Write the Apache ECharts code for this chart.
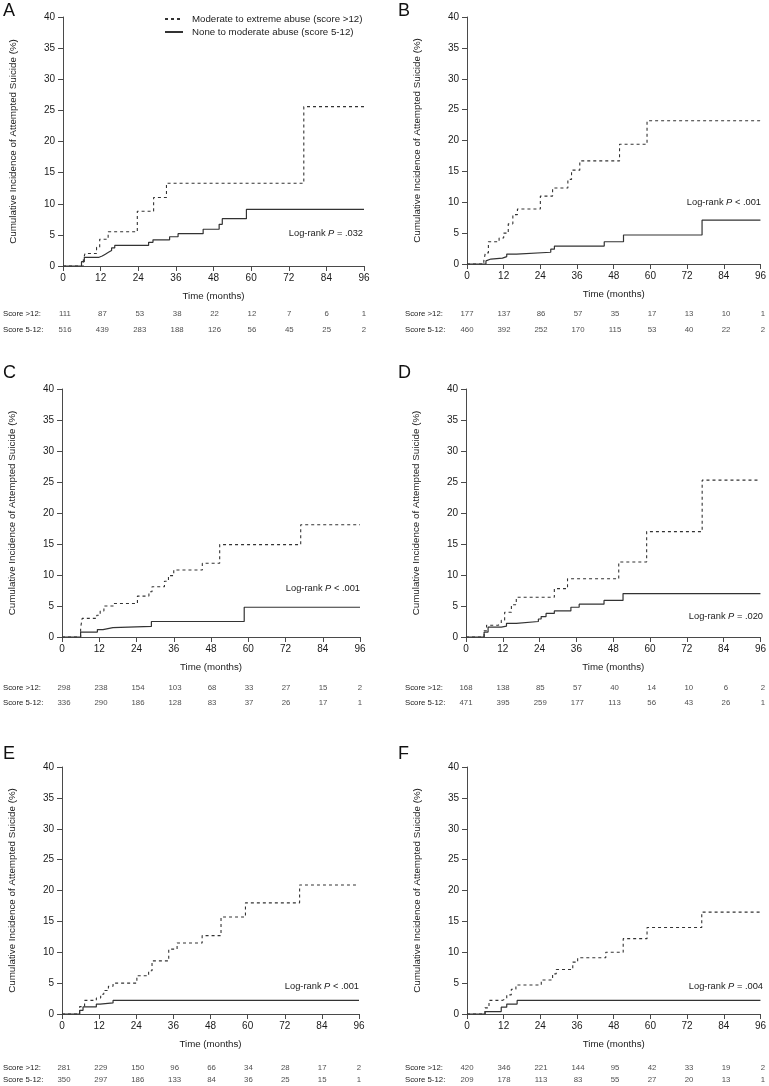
<!DOCTYPE html>
<html>
<head>
<meta charset="utf-8">
<script src="https://cdn.jsdelivr.net/npm/echarts@6/dist/echarts.min.js"></script>
<style>
  html, body { margin: 0; padding: 0; background: #fff; }
  #chart { width: 769px; height: 1086px; }
</style>
</head>
<body>
<div id="chart"></div>
<script>
// ---------------- DATA ----------------
const seriesNames = ['Moderate to extreme abuse (score >12)', 'None to moderate abuse (score 5-12)'];
const rowLabels = ['Score >12:', 'Score 5-12:'];
const months = [0, 12, 24, 36, 48, 60, 72, 84, 96];
const panelLetters = ['A', 'B', 'C', 'D', 'E', 'F'];
const pValues = ['= .032', '< .001', '< .001', '= .020', '< .001', '= .004'];

// step curves: [time (months), cumulative incidence (%) after event]
const A_high = [[0,0],[6.5,1.0],[7,2.0],[10.7,3.0],[11.7,4.3],[14.4,5.5],[23.7,8.8],[28.9,11.0],[33,13.3],[76.8,25.6],[96,25.6]];
const A_low  = [[0,0],[5.9,0.7],[6.8,1.4],[11.5,1.6],[12.5,1.9],[13.5,2.2],[14.5,2.5],[15.5,2.9],[16.5,3.3],[27.3,3.8],[28.7,4.2],[34,4.7],[36.7,5.2],[44.7,5.9],[49.8,6.7],[50.8,7.6],[58.5,9.1],[96,9.1]];
const B_high = [[0,0],[5.5,0.5],[6,1.8],[7,3.6],[10.5,4.2],[12,5.0],[13.5,6.5],[15,8.0],[16.5,8.9],[24,11.0],[28,12.3],[33,13.7],[34.2,15.2],[36.9,16.7],[49.9,19.4],[58.9,23.2],[96,23.2]];
const B_low  = [[0,0],[6.2,0.5],[6.8,0.8],[7.8,0.95],[11.6,1.2],[13,1.6],[16.2,1.9],[27.4,2.4],[28.6,2.9],[44.9,3.6],[51.2,4.7],[76.9,7.1],[96,7.1]];
const C_high = [[0,0],[6,1.5],[6.5,3.0],[11.2,3.5],[12.3,4.2],[13.5,5.0],[16.5,5.4],[24.3,6.6],[28,7.3],[29,8.1],[33,9.0],[34.3,9.9],[36,10.8],[45.2,11.9],[50.8,14.9],[76.9,18.1],[96,18.1]];
const C_low  = [[0,0],[6,0.8],[11.4,1.2],[13.2,1.5],[16.4,1.7],[28.8,2.5],[58.7,4.8],[96,4.8]];
const D_high = [[0,0],[5.9,1.0],[6.7,1.9],[10.5,2.2],[11.5,2.7],[12.6,4.0],[14.8,5.2],[16.4,6.4],[28.8,7.8],[33.1,9.4],[49.8,12.1],[58.9,17.0],[77,25.3],[96,25.3]];
const D_low  = [[0,0],[5.9,0.8],[7.2,1.6],[11.5,1.75],[13.2,2.2],[16.4,2.5],[23.6,2.9],[24.5,3.3],[26.1,3.8],[28.8,4.2],[34.2,4.8],[36.9,5.3],[45,5.9],[51.2,7.0],[96,7.0]];
const E_high = [[0,0],[5.7,1.2],[7.3,2.2],[11.1,2.6],[12.5,3.2],[13.5,3.8],[15,4.5],[16.5,5.0],[24.2,6.2],[28,7.0],[29.1,8.6],[34.5,10.5],[37.2,11.5],[45.3,12.7],[51.4,15.7],[59.3,18.0],[76.8,20.9],[96,20.9]];
const E_low  = [[0,0],[5.7,0.6],[6.8,1.15],[11.1,1.6],[12.3,1.8],[16.5,2.2],[96,2.2]];
const F_high = [[0,0],[5.9,1.0],[7.2,2.2],[11.5,2.5],[13,3.1],[14.5,4.0],[16,4.7],[24.3,5.5],[28,6.5],[29.2,7.2],[34.6,8.4],[36.2,9.1],[45.4,10.0],[51.1,12.2],[58.9,14.0],[76.8,16.5],[96,16.5]];
const F_low  = [[0,0],[5.9,0.4],[11.2,1.1],[13,1.6],[16.4,2.2],[96,2.2]];

// numbers at risk at 0,12,...,96 months
const A_riskHigh = [111, 87, 53, 38, 22, 12, 7, 6, 1];
const A_riskLow  = [516, 439, 283, 188, 126, 56, 45, 25, 2];
const B_riskHigh = [177, 137, 86, 57, 35, 17, 13, 10, 1];
const B_riskLow  = [460, 392, 252, 170, 115, 53, 40, 22, 2];
const C_riskHigh = [298, 238, 154, 103, 68, 33, 27, 15, 2];
const C_riskLow  = [336, 290, 186, 128, 83, 37, 26, 17, 1];
const D_riskHigh = [168, 138, 85, 57, 40, 14, 10, 6, 2];
const D_riskLow  = [471, 395, 259, 177, 113, 56, 43, 26, 1];
const E_riskHigh = [281, 229, 150, 96, 66, 34, 28, 17, 2];
const E_riskLow  = [350, 297, 186, 133, 84, 36, 25, 15, 1];
const F_riskHigh = [420, 346, 221, 144, 95, 42, 33, 19, 2];
const F_riskLow  = [209, 178, 113, 83, 55, 27, 20, 13, 1];

const curvesHigh = [A_high, B_high, C_high, D_high, E_high, F_high];
const curvesLow  = [A_low, B_low, C_low, D_low, E_low, F_low];
const risksHigh  = [A_riskHigh, B_riskHigh, C_riskHigh, D_riskHigh, E_riskHigh, F_riskHigh];
const risksLow   = [A_riskLow, B_riskLow, C_riskLow, D_riskLow, E_riskLow, F_riskLow];

// ---------------- LAYOUT (pixels) ----------------
const layout = [
  { l: 63,  r: 364, t: 17,  b: 266, rows: [314, 330],  letter: [3, 2],     p: [363, 233] },
  { l: 467, r: 763, t: 17,  b: 264, rows: [314, 330],  letter: [398, 2],   p: [761, 202] },
  { l: 62,  r: 360, t: 389, b: 637, rows: [688, 703],  letter: [3, 364],   p: [360, 588] },
  { l: 466, r: 763, t: 389, b: 637, rows: [688, 703],  letter: [398, 364], p: [763, 616] },
  { l: 62,  r: 359, t: 767, b: 1014, rows: [1068, 1081], letter: [3, 745], p: [359, 986] },
  { l: 467, r: 763, t: 767, b: 1014, rows: [1068, 1081], letter: [398, 745], p: [763, 986] }
];

const FONT = '"Liberation Sans", Arial, Helvetica, sans-serif';
const AXIS_COLOR = '#4a4a4a';
const TEXT_COLOR = '#1a1a1a';
const LINE_COLOR = '#333';

const grid = [], xAxis = [], yAxis = [], series = [], title = [];

layout.forEach((L, i) => {
  const g = grid.length;
  grid.push({ left: L.l, top: L.t, width: L.r - L.l, height: L.b - L.t, containLabel: false });
  xAxis.push({
    gridIndex: g, type: 'value', min: 0, max: 96, interval: 12,
    axisLine: { show: true, lineStyle: { color: AXIS_COLOR, width: 1 } },
    axisTick: { show: true, length: 5, lineStyle: { color: AXIS_COLOR } },
    axisLabel: { fontSize: 10, color: TEXT_COLOR, fontFamily: FONT, margin: 7 },
    splitLine: { show: false },
    name: 'Time (months)', nameLocation: 'middle', nameGap: 25,
    nameTextStyle: { fontSize: 9.7, color: TEXT_COLOR, fontFamily: FONT }
  });
  yAxis.push({
    gridIndex: g, type: 'value', min: 0, max: 40, interval: 5,
    axisLine: { show: true, lineStyle: { color: AXIS_COLOR, width: 1 } },
    axisTick: { show: true, length: 5, lineStyle: { color: AXIS_COLOR } },
    axisLabel: { fontSize: 10, color: TEXT_COLOR, fontFamily: FONT, margin: 8 },
    splitLine: { show: false },
    name: 'Cumulative Incidence of Attempted Suicide (%)', nameLocation: 'middle', nameGap: 45, nameRotate: 90,
    nameTextStyle: { fontSize: 9.8, color: TEXT_COLOR, fontFamily: FONT }
  });
  series.push({
    name: seriesNames[0], type: 'line', xAxisIndex: g, yAxisIndex: g, step: 'end',
    data: curvesHigh[i], showSymbol: false, symbol: 'none', silent: true,
    lineStyle: { color: LINE_COLOR, width: 1.1, type: [3, 3] }, itemStyle: { color: LINE_COLOR }
  });
  series.push({
    name: seriesNames[1], type: 'line', xAxisIndex: g, yAxisIndex: g, step: 'end',
    data: curvesLow[i], showSymbol: false, symbol: 'none', silent: true,
    lineStyle: { color: LINE_COLOR, width: 1.2, type: 'solid' }, itemStyle: { color: LINE_COLOR }
  });

  // number-at-risk table
  const tg = grid.length;
  const d = L.rows[1] - L.rows[0];
  grid.push({ left: L.l, top: L.rows[0] - d / 2, width: L.r - L.l, height: 2 * d, containLabel: false });
  xAxis.push({ gridIndex: tg, type: 'value', min: 0, max: 96, show: false });
  yAxis.push({
    gridIndex: tg, type: 'category', data: rowLabels, inverse: true,
    axisLine: { show: false }, axisTick: { show: false }, splitLine: { show: false },
    axisLabel: { align: 'left', margin: L.l - (i % 2 === 0 ? 1 : 405), fontSize: 7.8, color: TEXT_COLOR, fontFamily: FONT }
  });
  [risksHigh[i], risksLow[i]].forEach((arr, r) => {
    series.push({
      type: 'scatter', xAxisIndex: tg, yAxisIndex: tg, silent: true,
      symbolSize: 0.1, itemStyle: { color: 'rgba(0,0,0,0)' },
      data: arr.map((n, k) => [months[k], r, n]),
      label: { show: true, position: 'inside', formatter: (p) => String(p.value[2]),
               fontSize: 7.8, color: TEXT_COLOR, fontFamily: FONT }
    });
  });

  // panel letter
  title.push({
    text: panelLetters[i], left: L.letter[0], top: L.letter[1], padding: 0,
    textStyle: { fontSize: 18, fontWeight: 'normal', color: '#111', fontFamily: FONT }
  });
  // log-rank annotation
  title.push({
    text: '{n|Log-rank }{i|P}{n| ' + pValues[i] + '}',
    right: 769 - L.p[0], top: L.p[1] - 5.5, padding: 0,
    textStyle: {
      fontWeight: 'normal', fontSize: 9.3, color: TEXT_COLOR, fontFamily: FONT,
      rich: {
        n: { fontSize: 9.3, fontWeight: 'normal', color: TEXT_COLOR, fontFamily: FONT, lineHeight: 11 },
        i: { fontSize: 9.3, fontWeight: 'normal', color: TEXT_COLOR, fontFamily: FONT, fontStyle: 'italic', lineHeight: 11 }
      }
    }
  });
});

const option = {
  animation: false,
  backgroundColor: '#fff',
  title: title,
  legend: {
    data: seriesNames, orient: 'vertical', left: 164, top: 14, padding: 0,
    itemWidth: 18, itemHeight: 10, itemGap: 3, selectedMode: false,
    itemStyle: { opacity: 0, borderWidth: 0 },
    textStyle: { fontSize: 9.7, color: TEXT_COLOR, fontFamily: FONT, padding: [0, 0, 0, 4] }
  },
  grid: grid, xAxis: xAxis, yAxis: yAxis, series: series
};

const chart = echarts.init(document.getElementById('chart'), null, { renderer: 'canvas' });
chart.setOption(option);
</script>
</body>
</html>
